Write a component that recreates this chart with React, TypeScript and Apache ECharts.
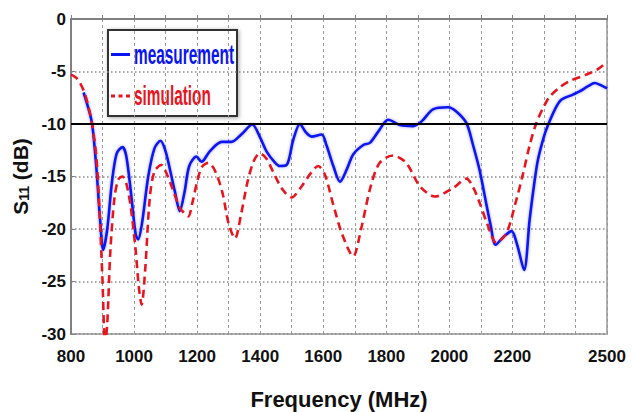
import React, { useEffect, useRef } from "react";
import * as echarts from "echarts";

// Frequency axis (MHz)
const xMin = 800;
const xMax = 2500;
const xTickLabels = [800, 1000, 1200, 1400, 1600, 1800, 2000, 2200, 2500];
const yTickLabels = [0, -5, -10, -15, -20, -25, -30];
const thresholdDb = -10;

// Measurement
const measFreq = [840, 855, 867, 880, 892, 902, 915, 930, 945, 963, 975, 990, 1005, 1013, 1025, 1045, 1065, 1084, 1100, 1115, 1130, 1145, 1160, 1175, 1198, 1214, 1240, 1278, 1309, 1340, 1375, 1400, 1420, 1445, 1462, 1484, 1505, 1526, 1545, 1563, 1595, 1610, 1632, 1653, 1675, 1695, 1727, 1748, 1775, 1806, 1843, 1885, 1912, 1948, 1996, 2022, 2054, 2075, 2096, 2110, 2130, 2147, 2170, 2197, 2215, 2237, 2255, 2270, 2281, 2300, 2313, 2335, 2355, 2392, 2413, 2440, 2461, 2480, 2500];
const measDb = [-7.0, -8.5, -10, -14, -19, -22, -20, -15.5, -12.8, -12.2, -13, -16.5, -20.5, -21, -19.5, -15, -12.3, -11.6, -12.6, -14.5, -16.5, -18.3, -16.5, -14, -13.1, -13.6, -12.6, -11.7, -11.7, -11, -10.05, -11.3, -12.6, -13.6, -14.0, -13.9, -11.5, -10.0, -10.8, -11.2, -11.0, -12.0, -14.0, -15.5, -14.3, -12.9, -12.0, -11.8, -10.7, -9.6, -10.1, -10.2, -9.75, -8.6, -8.4, -8.8, -9.9, -12, -14.4, -16.5, -19.5, -21.5, -20.8, -20.2, -21.5, -23.9, -19, -15.5, -13.4, -11.2, -10.1, -8.6, -7.7, -7.2, -6.9, -6.4, -6.1, -6.3, -6.6];

// Simulation
const simFreq = [800, 820, 840, 855, 867, 880, 890, 900, 908, 915, 925, 938, 950, 963, 975, 990, 1005, 1015, 1024, 1035, 1050, 1065, 1087, 1100, 1120, 1145, 1160, 1172, 1185, 1200, 1215, 1235, 1256, 1280, 1300, 1320, 1340, 1360, 1380, 1399, 1420, 1440, 1470, 1499, 1530, 1560, 1584, 1605, 1632, 1660, 1695, 1720, 1750, 1779, 1821, 1863, 1906, 1954, 2012, 2054, 2075, 2096, 2120, 2149, 2181, 2210, 2234, 2255, 2276, 2300, 2318, 2350, 2382, 2434, 2470, 2500];
const simDb = [-5.3, -5.7, -6.8, -8.3, -10, -13, -18, -25, -31, -29, -22, -17, -15.3, -15, -15.6, -18, -22, -25.5, -27.2, -24, -17, -14.5, -13.9, -14.5, -16, -18, -18.5, -18.8, -17.5, -15.5, -14.1, -13.7, -14.4, -16.5, -19.5, -20.9, -18.5, -15.5, -13.5, -12.8, -13.3, -14.5, -16.2, -17.0, -16, -14.7, -14.0, -14.8, -17.7, -20.5, -22.6, -20, -16, -13.7, -13.0, -13.7, -15.9, -16.9, -16.1, -15.2, -16, -17.5, -19.5, -21.3, -20.4, -17.5, -14.7, -12, -9.9, -8.3, -7.4, -6.5, -5.9, -5.3, -4.8, -4.1];

const seriesNames = ["measurement", "simulation"];
const blue = "#0a14f0";
const red = "#e8141e";

const sans = '"Liberation Sans", Arial, sans-serif';

export default function App() {
  const ref = useRef<HTMLDivElement>(null);
  useEffect(() => {
    if (!ref.current) return;
    const chart = echarts.init(ref.current, undefined, { renderer: "svg" });
    const meas = measFreq.map((f, i) => [f, measDb[i]]);
    const sim = simFreq.map((f, i) => [f, simDb[i]]);
    chart.setOption({
      animation: false,
      backgroundColor: "#ffffff",
      grid: {
        left: 71,
        right: 28,
        top: 19,
        bottom: 78,
        containLabel: false,
        outerBoundsMode: "none",
        show: true,
        borderColor: "#b0b0b0",
        borderWidth: 2,
      },
      xAxis: {
        type: "value",
        min: xMin,
        max: xMax,
        interval: 100,
        name: "Frequency (MHz)",
        nameLocation: "middle",
        nameGap: 54,
        nameTextStyle: { fontFamily: sans, fontWeight: "bold", fontSize: 22, color: "#111" },
        axisLine: { lineStyle: { color: "#808080", width: 2 } },
        axisTick: { show: true, inside: true, length: 4, lineStyle: { color: "#808080" } },
        axisLabel: {
          margin: 14,
          fontFamily: sans,
          fontWeight: "bold",
          fontSize: 17,
          color: "#111",
          formatter: (v: number) => (xTickLabels.includes(v) ? String(v) : ""),
        },
        splitLine: { show: true, lineStyle: { color: "#9a9a9a", width: 1, type: [3, 3] } },
      },
      yAxis: {
        type: "value",
        min: -30,
        max: 0,
        interval: 5,
        name: "{s|S}{sub|11}{s| (dB)}",
        nameLocation: "middle",
        nameRotate: 90,
        nameGap: 38,
        nameTextStyle: {
          rich: {
            s: { fontFamily: sans, fontWeight: "bold", fontSize: 21, color: "#111", verticalAlign: "bottom", lineHeight: 24 },
            sub: { fontFamily: sans, fontWeight: "bold", fontSize: 14, color: "#111", verticalAlign: "bottom", lineHeight: 20 },
          },
        },
        axisLine: { show: true, lineStyle: { color: "#808080", width: 2 } },
        axisTick: { show: true, inside: true, length: 4, lineStyle: { color: "#808080" } },
        axisLabel: {
          margin: 5,
          fontFamily: sans,
          fontWeight: "bold",
          fontSize: 17,
          color: "#111",
          formatter: (v: number) => (yTickLabels.includes(v) ? String(v) : ""),
        },
        splitLine: { show: true, lineStyle: { color: "#8a8a8a", width: 1.5, type: [1.5, 2.5] } },
      },
      series: [
        {
          name: seriesNames[0],
          type: "line",
          data: meas,
          showSymbol: false,
          smooth: 0.3,
          clip: true,
          lineStyle: { color: blue, width: 2.6, shadowColor: "rgba(60,60,255,0.5)", shadowBlur: 3 },
          markLine: {
            silent: true,
            symbol: "none",
            label: { show: false },
            lineStyle: { color: "#000", width: 2, type: "solid" },
            data: [{ yAxis: thresholdDb }],
          },
          z: 3,
        },
        {
          name: seriesNames[1],
          type: "line",
          data: sim,
          showSymbol: false,
          smooth: 0.3,
          clip: true,
          lineStyle: { color: red, width: 2.6, type: [8, 5] },
          z: 4,
        },
      ],
      graphic: [
        {
          type: "group",
          left: 107,
          top: 29,
          z: 100,
          children: [
            {
              type: "rect",
              shape: { x: 0, y: 0, width: 129, height: 86 },
              style: { fill: "#fff", stroke: "#333", lineWidth: 2, shadowBlur: 4, shadowColor: "rgba(0,0,0,0.35)", shadowOffsetX: 1, shadowOffsetY: 1 },
            },
            {
              type: "line",
              shape: { x1: 3, y1: 24.5, x2: 22, y2: 24.5 },
              style: { stroke: blue, lineWidth: 3 },
            },
            {
              type: "text",
              x: 26,
              y: 25,
              scaleX: 0.81,
              scaleY: 1.45,
              style: { text: seriesNames[0], fill: blue, font: `bold 19px ${sans}`, verticalAlign: "middle", align: "left" },
            },
            {
              type: "line",
              shape: { x1: 3, y1: 66, x2: 23, y2: 66 },
              style: { stroke: red, lineWidth: 3, lineDash: [4, 3.5] },
            },
            {
              type: "text",
              x: 26,
              y: 66,
              scaleX: 0.81,
              scaleY: 1.45,
              style: { text: seriesNames[1], fill: red, font: `bold 19px ${sans}`, verticalAlign: "middle", align: "left" },
            },
          ],
        },
      ],
    });
    return () => chart.dispose();
  }, []);
  return <div ref={ref} style={{ width: 635, height: 412, position: "absolute", left: 0, top: 0 }} />;
}
